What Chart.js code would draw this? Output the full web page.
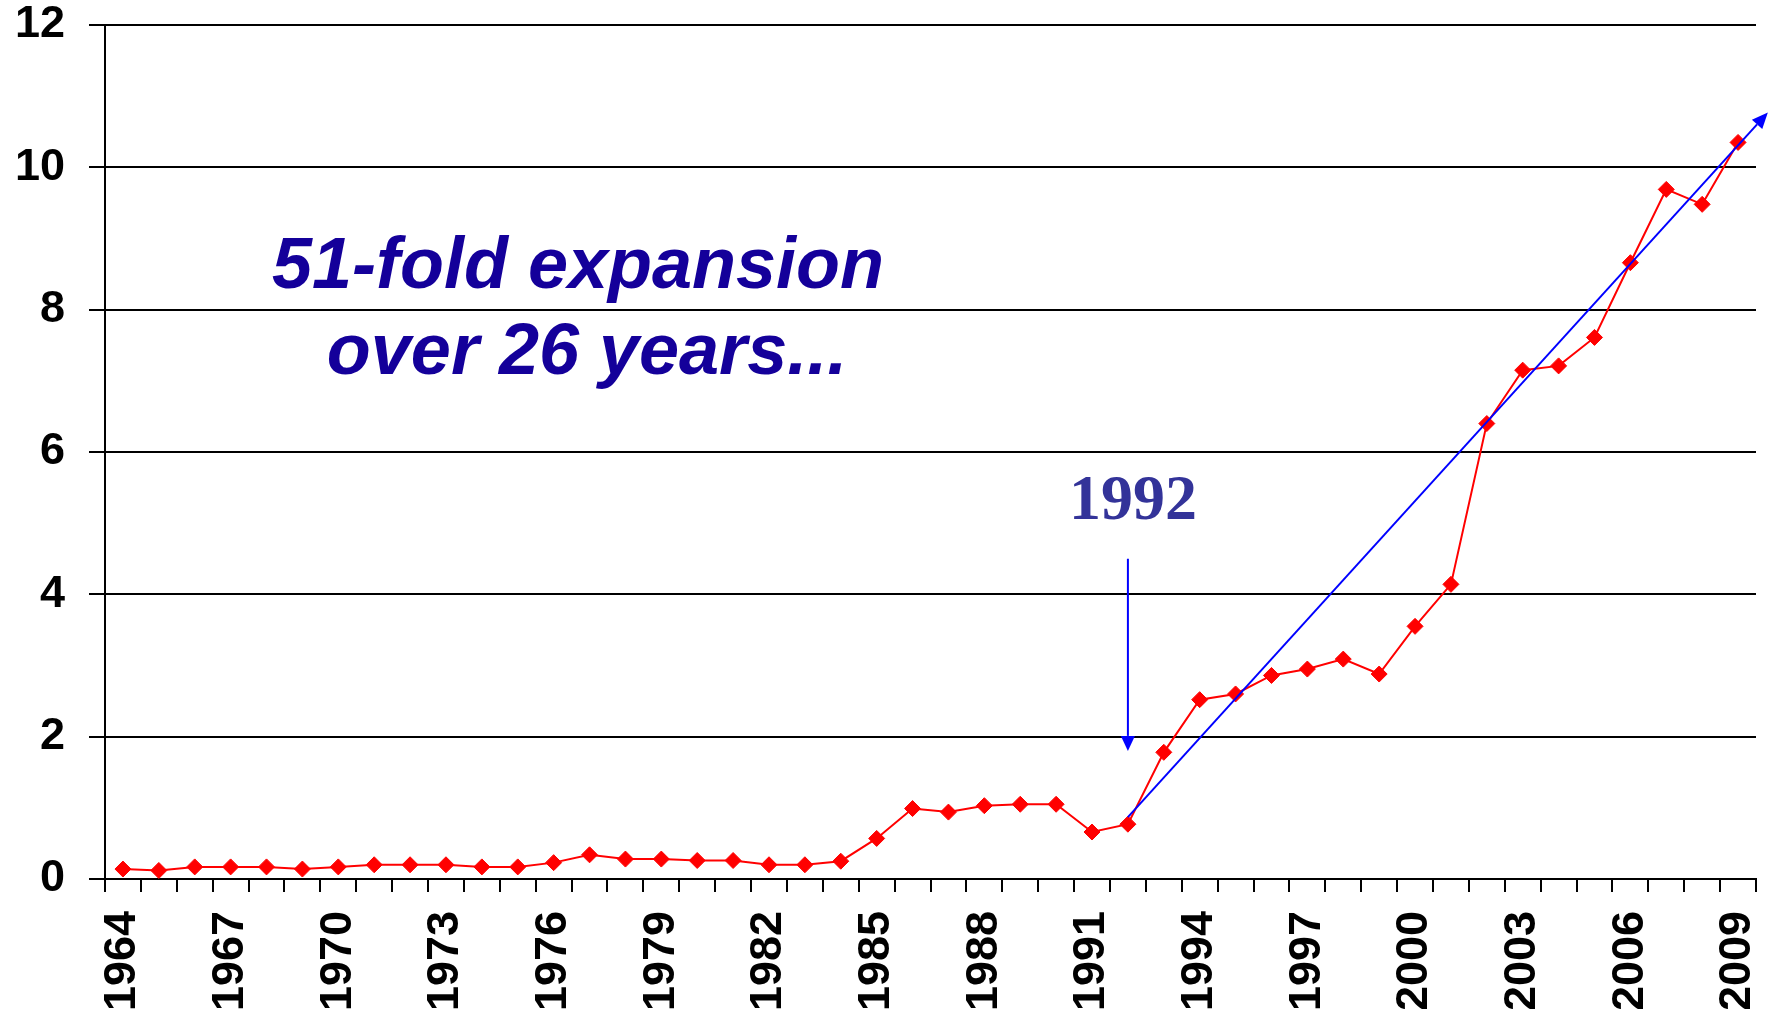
<!DOCTYPE html>
<html>
<head>
<meta charset="utf-8">
<script src="https://cdn.jsdelivr.net/npm/chart.js@4/dist/chart.umd.min.js"></script>
<style>
html,body{margin:0;padding:0;background:#ffffff;overflow:hidden;}
canvas{display:block;}
</style>
</head>
<body>
<canvas id="c" width="1779" height="1009"></canvas>
<script>
// ---- data ----
const years = ['1964','1965','1966','1967','1968','1969','1970','1971','1972','1973','1974','1975','1976',
  '1977','1978','1979','1980','1981','1982','1983','1984','1985','1986','1987','1988','1989','1990','1991','1992',
  '1993','1994','1995','1996','1997','1998','1999','2000','2001','2002','2003','2004','2005','2006','2007','2008','2009'];
const values = [0.14,0.12,0.17,0.17,0.17,0.14,0.17,0.20,0.20,0.20,0.17,0.17,0.23,
  0.34,0.28,0.28,0.26,0.26,0.20,0.20,0.25,0.57,0.99,0.94,1.03,1.05,1.05,0.66,0.77,
  1.78,2.52,2.60,2.86,2.95,3.09,2.88,3.55,4.14,6.40,7.15,7.21,7.61,8.66,9.69,9.48,10.35];
const shownYears = ['1964','1967','1970','1973','1976','1979','1982','1985','1988','1991','1994','1997','2000','2003','2006','2009'];
const yTicks = [0,2,4,6,8,10,12];
const trendYears = [1992, 2009.83];
const trendValues = [0.87, 10.77];
const markerYear = 1992;
const markerValues = [4.5, 1.8];
const markerLabel = '1992';
const markerLabelValue = 5.06;
const titleLines = ['51-fold expansion', 'over 26 years...'];

const firstYear = parseInt(years[0], 10);

const annotate = {
  id: 'annotate',
  afterDatasetsDraw(chart) {
    const {ctx, scales} = chart;
    const xs = scales.x, ys = scales.y;
    const xOf = yr => xs.getPixelForValue(yr - firstYear);
    ctx.save();
    ctx.strokeStyle = '#0000FF';
    ctx.fillStyle = '#0000FF';
    ctx.lineWidth = 2;
    function arrow(x1, y1, x2, y2, len, half) {
      const a = Math.atan2(y2 - y1, x2 - x1);
      const bx = x2 - len * Math.cos(a), by = y2 - len * Math.sin(a);
      ctx.beginPath(); ctx.moveTo(x1, y1); ctx.lineTo(bx, by); ctx.stroke();
      ctx.beginPath();
      ctx.moveTo(x2, y2);
      ctx.lineTo(bx + half * Math.sin(a), by - half * Math.cos(a));
      ctx.lineTo(bx - half * Math.sin(a), by + half * Math.cos(a));
      ctx.closePath(); ctx.fill();
    }
    arrow(xOf(trendYears[0]), ys.getPixelForValue(trendValues[0]),
          xOf(trendYears[1]), ys.getPixelForValue(trendValues[1]), 16, 7);
    const mx = xOf(markerYear);
    arrow(mx, ys.getPixelForValue(markerValues[0]), mx, ys.getPixelForValue(markerValues[1]), 15, 7);
    // marker label
    ctx.fillStyle = '#333399';
    ctx.font = 'bold 64px "Liberation Serif", "Times New Roman", serif';
    ctx.textAlign = 'center';
    ctx.textBaseline = 'alphabetic';
    ctx.fillText(markerLabel, mx + 5, ys.getPixelForValue(markerLabelValue));
    // title text
    ctx.fillStyle = '#14009A';
    ctx.font = 'italic bold 72px "Liberation Sans", Arial, sans-serif';
    ctx.fillText(titleLines[0], 578, 288);
    ctx.fillText(titleLines[1], 587, 374);
    ctx.restore();
  }
};

new Chart(document.getElementById('c'), {
  type: 'line',
  data: {
    labels: years,
    datasets: [{
      data: values,
      borderColor: '#FF0000',
      backgroundColor: '#FF0000',
      borderWidth: 2,
      pointStyle: 'rectRot',
      pointRadius: 8,
      pointHoverRadius: 8,
      pointBackgroundColor: '#FF0000',
      pointBorderColor: '#FF0000',
      pointBorderWidth: 1,
      tension: 0,
      fill: false
    }]
  },
  options: {
    responsive: false,
    devicePixelRatio: 1,
    animation: false,
    events: [],
    layout: { padding: { left: 0, right: 23, top: 0, bottom: 0 } },
    plugins: { legend: { display: false }, tooltip: { enabled: false }, title: { display: false } },
    scales: {
      x: {
        type: 'category',
        offset: true,
        grid: { display: true, offset: true, drawOnChartArea: false, drawTicks: true, tickLength: 13, color: '#000000', lineWidth: 2 },
        border: { display: true, color: '#000000', width: 2 },
        ticks: {
          autoSkip: false,
          minRotation: 90,
          maxRotation: 90,
          padding: 19,
          color: '#000000',
          font: { family: '"Liberation Sans", Arial, sans-serif', size: 45, weight: 'bold' },
          callback: function(v, i) { const l = this.getLabelForValue(v); return shownYears.includes(l) ? l : ''; }
        },
        afterFit: s => { s.height = 130; s.paddingLeft = 0; s.paddingRight = 0; }
      },
      y: {
        min: 0,
        max: 12,
        afterBuildTicks: s => { s.ticks = yTicks.map(v => ({ value: v })); },
        grid: { display: true, drawOnChartArea: true, drawTicks: true, tickLength: 16, color: '#000000', lineWidth: 2 },
        border: { display: true, color: '#000000', width: 2 },
        ticks: {
          padding: 24,
          color: '#000000',
          font: { family: '"Liberation Sans", Arial, sans-serif', size: 45, weight: 'bold' }
        },
        afterFit: s => { s.width = 105; s.paddingTop = 25; s.paddingBottom = 0; }
      }
    }
  },
  plugins: [annotate]
});
</script>
</body>
</html>
